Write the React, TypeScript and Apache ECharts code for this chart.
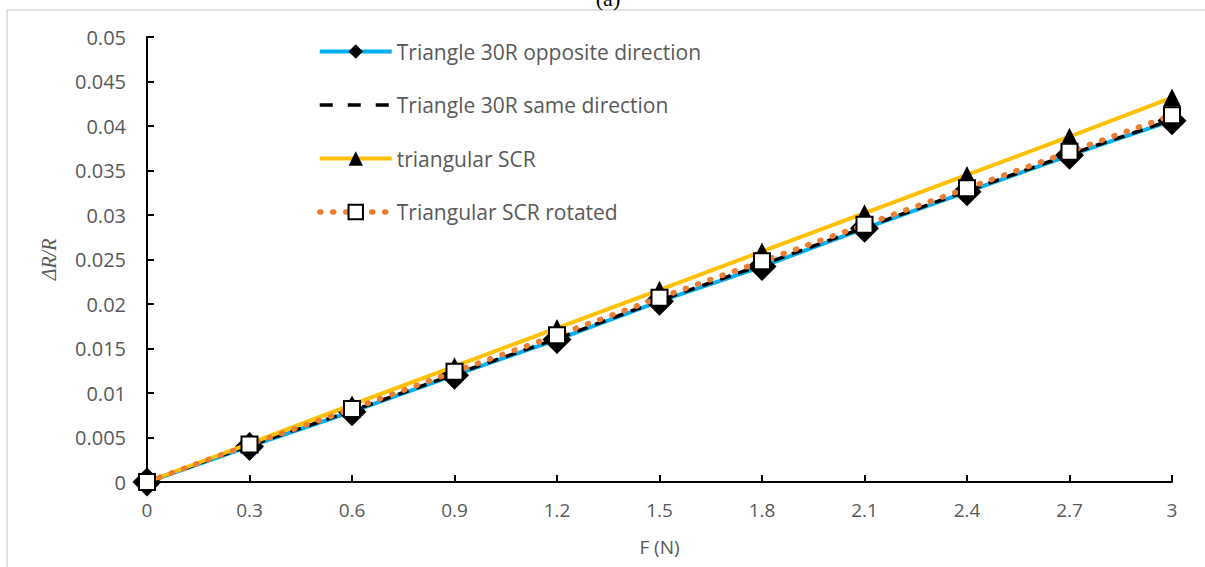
import React, { useEffect, useRef } from "react";
import * as echarts from "echarts";

const forceN = [0, 0.3, 0.6, 0.9, 1.2, 1.5, 1.8, 2.1, 2.4, 2.7, 3];
const oppositeDir = [0, 0.0040, 0.0079, 0.0120, 0.0160, 0.0203, 0.0242, 0.0285, 0.0326, 0.0367, 0.0406];
const sameDir = [0, 0.0041, 0.0080, 0.0121, 0.0161, 0.0204, 0.0244, 0.0286, 0.0327, 0.0368, 0.0407];
const triangularSCR = [0, 0.0043, 0.0087, 0.0130, 0.0173, 0.0216, 0.0259, 0.0302, 0.0345, 0.0388, 0.0432];
const scrRotated = [0, 0.0042, 0.0082, 0.0124, 0.0165, 0.0207, 0.0248, 0.0289, 0.0330, 0.0371, 0.0412];

const seriesNames = [
  "Triangle 30R opposite direction",
  "Triangle 30R same direction",
  "triangular SCR",
  "Triangular SCR rotated",
];

const pairs = (ys: number[]) => forceN.map((x, i) => [x, ys[i]]);

const FONT = "'Open Sans', 'Liberation Sans', sans-serif";
const GREY = "#595959";

const blueLine = { color: "#00B0F0", width: 4 };
const blackDash = { color: "#000000", width: 3.5, type: [11, 8] as number[] };
const blackDashLegend = { color: "#000000", width: 3.5, type: [13, 15] as number[] };
const yellowLine = { color: "#FFC000", width: 4 };
const orangeDots = { color: "#ED7D31", width: 5.5, type: [1, 12] as number[], cap: "round" };

export default function App() {
  const ref = useRef<HTMLDivElement>(null);
  useEffect(() => {
    document.body.style.margin = "0";
    const chart = echarts.init(ref.current!, null, { renderer: "svg" });
    chart.setOption({
      animation: false,
      backgroundColor: "#ffffff",
      graphic: [
        {
          type: "rect",
          shape: { x: 7, y: 10, width: 1300, height: 700 },
          style: { fill: "none", stroke: "#d9d9d9", lineWidth: 1.5 },
          silent: true,
        },
        {
          type: "text",
          x: 608,
          y: 9,
          style: {
            text: "(a)",
            font: "22px 'Liberation Serif', serif",
            fill: "#000000",
            textAlign: "center",
            textVerticalAlign: "bottom",
          },
        },
      ],
      grid: { left: 147, right: 33, top: 37, bottom: 85, containLabel: false },
      legend: {
        orient: "vertical",
        left: 317,
        top: 41,
        padding: 0,
        itemWidth: 72,
        itemHeight: 18,
        itemGap: 32.5,
        data: [
          { name: seriesNames[0], lineStyle: blueLine, itemStyle: { color: "#000" } },
          { name: seriesNames[1], lineStyle: blackDashLegend, itemStyle: { opacity: 0 } },
          { name: seriesNames[2], lineStyle: yellowLine, itemStyle: { color: "#000" } },
          {
            name: seriesNames[3],
            lineStyle: orangeDots,
            itemStyle: { color: "#fff", borderColor: "#000", borderWidth: 2 },
          },
        ],
        textStyle: { fontFamily: FONT, fontSize: 21, lineHeight: 18, color: GREY },
      },
      xAxis: {
        type: "value",
        min: 0,
        max: 3,
        interval: 0.3,
        name: "F (N)",
        nameLocation: "middle",
        nameGap: 55,
        nameTextStyle: { fontFamily: FONT, fontSize: 19, color: GREY },
        axisLine: { show: true, lineStyle: { color: "#000", width: 2 } },
        axisTick: { show: true, inside: true, length: 7, lineStyle: { color: "#000", width: 2 } },
        axisLabel: {
          margin: 18,
          fontFamily: FONT,
          fontSize: 19,
          color: GREY,
          formatter: (v: number) => String(Number(v.toFixed(1))),
        },
        splitLine: { show: false },
      },
      yAxis: {
        type: "value",
        min: 0,
        max: 0.05,
        interval: 0.005,
        name: "ΔR/R",
        nameLocation: "middle",
        nameRotate: 90,
        nameGap: 88,
        nameTextStyle: {
          fontFamily: "'Liberation Serif', serif",
          fontStyle: "italic",
          fontSize: 20,
          color: GREY,
        },
        axisLine: { show: true, lineStyle: { color: "#000", width: 2 } },
        axisTick: { show: true, inside: true, length: 7, lineStyle: { color: "#000", width: 2 } },
        axisLabel: {
          margin: 21,
          fontFamily: FONT,
          fontSize: 20,
          color: GREY,
          formatter: (v: number) => String(Number(v.toFixed(3))),
        },
        splitLine: { show: false },
      },
      series: [
        {
          name: seriesNames[0],
          type: "line",
          data: pairs(oppositeDir),
          symbol: "diamond",
          symbolSize: 29,
          itemStyle: { color: "#000000" },
          lineStyle: blueLine,
          z: 2,
        },
        {
          name: seriesNames[1],
          type: "line",
          data: pairs(sameDir),
          symbol: "none",
          itemStyle: { color: "#000000" },
          lineStyle: blackDash,
          z: 3,
        },
        {
          name: seriesNames[2],
          type: "line",
          data: pairs(triangularSCR),
          symbol: "triangle",
          symbolSize: 18,
          itemStyle: { color: "#000000" },
          lineStyle: yellowLine,
          z: 4,
        },
        {
          name: seriesNames[3],
          type: "line",
          data: pairs(scrRotated),
          symbol: "rect",
          symbolSize: 16,
          itemStyle: { color: "#ffffff", borderColor: "#000000", borderWidth: 2 },
          lineStyle: orangeDots,
          z: 5,
        },
      ],
    });
    return () => chart.dispose();
  }, []);
  return <div ref={ref} style={{ width: 1205, height: 567 }} />;
}
